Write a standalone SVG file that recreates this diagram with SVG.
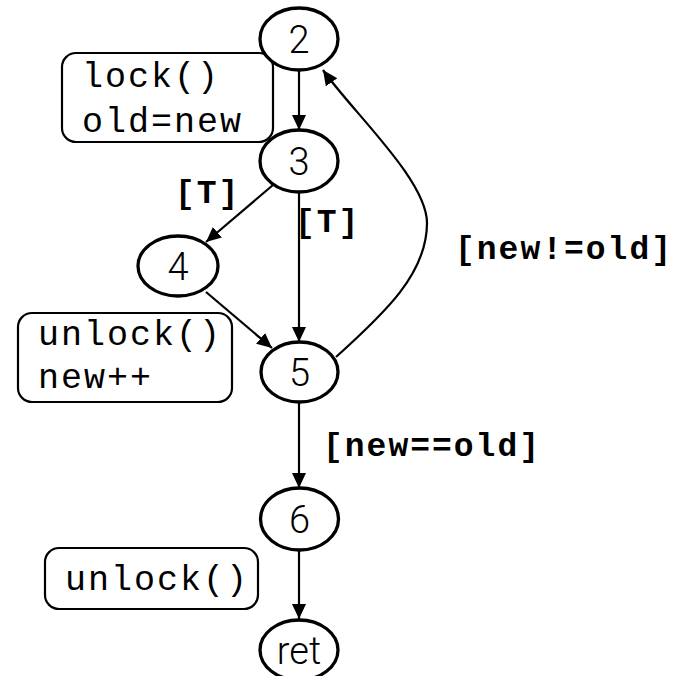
<svg xmlns="http://www.w3.org/2000/svg" width="675" height="676" viewBox="0 0 675 676">
  <style>
    .node ellipse { fill: #fff; stroke: #000; stroke-width: 3.3; }
    .node text { font-family: Roboto, "Liberation Sans", sans-serif; font-weight: 300; font-size: 38px; text-anchor: middle; fill: #000; }
    .note rect { fill: #fff; stroke: #000; stroke-width: 2.2; }
    .note text { font-family: "Liberation Mono", "Courier New", monospace; font-size: 35px; letter-spacing: 2px; fill: #000; }
    .edge { fill: none; stroke: #000; stroke-width: 2.2; }
    .label { font-family: "Liberation Mono", "Courier New", monospace; font-weight: bold; font-size: 33px; letter-spacing: 2px; fill: #000; }
  </style>
  <defs>
    <marker id="arrow" markerUnits="userSpaceOnUse" markerWidth="16" markerHeight="15" refX="15" refY="7" orient="auto">
      <path d="M0,0 L15,7 L0,14 z" fill="#000"/>
    </marker>
  </defs>
  <rect width="675" height="676" fill="#fff"/>

  <!-- annotation boxes -->
  <g id="note-lock" class="note">
    <rect x="62" y="53" width="211" height="89" rx="14"/>
    <text x="82" y="87">lock()</text>
    <text x="82" y="132">old=new</text>
  </g>
  <g id="note-unlock-inc" class="note">
    <rect x="18" y="313" width="214" height="89" rx="14"/>
    <text x="38" y="345">unlock()</text>
    <text x="38" y="388">new++</text>
  </g>
  <g id="note-unlock" class="note">
    <rect x="45" y="548" width="213" height="61" rx="14"/>
    <text x="65" y="590">unlock()</text>
  </g>

  <!-- connectors -->
  <g id="edges">
    <path class="edge" d="M299,70 L299,130" marker-end="url(#arrow)"/>
    <path class="edge" d="M273,185 L206,242" marker-end="url(#arrow)"/>
    <path class="edge" d="M299,192 L299,342" marker-end="url(#arrow)"/>
    <path class="edge" d="M206,292 L272,348" marker-end="url(#arrow)"/>
    <path class="edge" d="M336,357 C386,312 427,273 427,223 C427,180 351.5,111 323,70" marker-end="url(#arrow)"/>
    <path class="edge" d="M299,402 L299,488" marker-end="url(#arrow)"/>
    <path class="edge" d="M299,550 L299,619" marker-end="url(#arrow)"/>
    <text class="label" x="175" y="203">[T]</text>
    <text class="label" x="295" y="232">[T]</text>
    <text class="label" x="455" y="259">[new!=old]</text>
    <text class="label" x="323" y="456">[new==old]</text>
  </g>

  <!-- nodes -->
  <g id="n2" class="node">
    <ellipse cx="299" cy="39" rx="39" ry="31"/>
    <text x="299" y="53">2</text>
  </g>
  <g id="n3" class="node">
    <ellipse cx="299" cy="161" rx="39" ry="31"/>
    <text x="299" y="175">3</text>
  </g>
  <g id="n4" class="node">
    <ellipse cx="178" cy="266" rx="40" ry="30"/>
    <text x="178" y="280">4</text>
  </g>
  <g id="n5" class="node">
    <ellipse cx="299.5" cy="372" rx="38.5" ry="30"/>
    <text x="299.5" y="386">5</text>
  </g>
  <g id="n6" class="node">
    <ellipse cx="299.5" cy="519" rx="39" ry="31"/>
    <text x="299.5" y="533">6</text>
  </g>
  <g id="nret" class="node">
    <ellipse cx="299" cy="650" rx="39" ry="30"/>
    <text x="299" y="664">ret</text>
  </g>
</svg>
